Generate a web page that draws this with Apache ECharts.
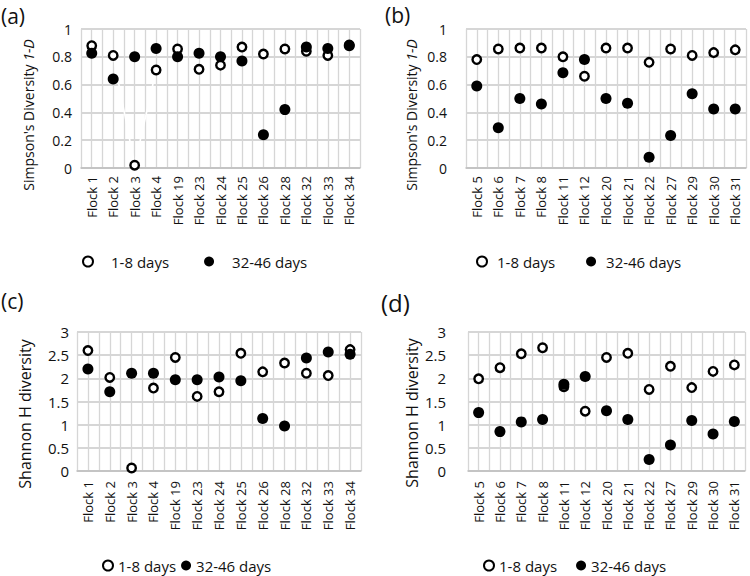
<!DOCTYPE html>
<html>
<head>
<meta charset="utf-8">
<script src="https://cdn.jsdelivr.net/npm/echarts@6/dist/echarts.min.js"></script>
<style>html,body{margin:0;padding:0;background:#fff}#c{width:750px;height:576px}</style>
</head>
<body>
<div id="c"></div>
<script>
// ---- data ----
const flocksLeft = ['Flock 1','Flock 2','Flock 3','Flock 4','Flock 19','Flock 23','Flock 24','Flock 25','Flock 26','Flock 28','Flock 32','Flock 33','Flock 34'];
const flocksRight = ['Flock 5','Flock 6','Flock 7','Flock 8','Flock 11','Flock 12','Flock 20','Flock 21','Flock 22','Flock 27','Flock 29','Flock 30','Flock 31'];
const seriesNames = ['1-8 days', '32-46 days'];

const simpsonEarlyA = [0.88, 0.81, 0.02, 0.705, 0.856, 0.71, 0.74, 0.87, 0.82, 0.856, 0.84, 0.81, 0.885];
const simpsonLateA  = [0.825, 0.64, 0.80, 0.86, 0.80, 0.825, 0.80, 0.77, 0.24, 0.42, 0.87, 0.86, 0.88];

const simpsonEarlyB = [0.78, 0.856, 0.863, 0.863, 0.80, 0.66, 0.863, 0.863, 0.76, 0.856, 0.81, 0.83, 0.85];
const simpsonLateB  = [0.59, 0.29, 0.50, 0.46, 0.685, 0.78, 0.50, 0.466, 0.078, 0.234, 0.534, 0.424, 0.424];

const shannonEarlyC = [2.60, 2.02, 0.065, 1.79, 2.45, 1.61, 1.71, 2.54, 2.14, 2.33, 2.11, 2.06, 2.62];
const shannonLateC  = [2.20, 1.71, 2.11, 2.11, 1.97, 1.97, 2.03, 1.95, 1.135, 0.97, 2.44, 2.57, 2.52];

const shannonEarlyD = [1.99, 2.23, 2.53, 2.66, 1.82, 1.29, 2.45, 2.54, 1.76, 2.26, 1.80, 2.15, 2.29];
const shannonLateD  = [1.26, 0.85, 1.06, 1.11, 1.87, 2.04, 1.30, 1.11, 0.25, 0.56, 1.09, 0.80, 1.07];

const simpsonTicks = [0, 0.2, 0.4, 0.6, 0.8, 1];
const shannonTicks = [0, 0.5, 1, 1.5, 2, 2.5, 3];

// ---- layout ----
const FONT = '"Open Sans", "Noto Sans", sans-serif';
const TXT = '#111';
const GRIDC = '#d6d6d6';

const panels = [
  {grid:{left:81, top:29, width:279, height:139}, cats:flocksLeft, early:simpsonEarlyA, late:simpsonLateA, ticks:simpsonTicks, tickFont:14, tickMargin:9, xMargin:8},
  {grid:{left:466, top:29, width:280, height:139}, cats:flocksRight, early:simpsonEarlyB, late:simpsonLateB, ticks:simpsonTicks, tickFont:14, tickMargin:19, xMargin:8},
  {grid:{left:77, top:332, width:284, height:139}, cats:flocksLeft, early:shannonEarlyC, late:shannonLateC, ticks:shannonTicks, tickFont:15, tickMargin:8, xMargin:10},
  {grid:{left:468, top:332, width:277, height:139}, cats:flocksRight, early:shannonEarlyD, late:shannonLateD, ticks:shannonTicks, tickFont:15, tickMargin:22, xMargin:10}
];

const grids = [], xAxes = [], yAxes = [], series = [];
panels.forEach((p, i) => {
  grids.push(Object.assign({containLabel:false}, p.grid));
  xAxes.push({
    type:'category', gridIndex:i, data:p.cats, boundaryGap:true,
    axisLine:{show:true, lineStyle:{color:'#bfbfbf', width:1.5}},
    axisTick:{show:false},
    axisLabel:{rotate:90, interval:0, fontSize:13, fontFamily:FONT, color:TXT, margin:p.xMargin},
    splitLine:{show:false}
  });
  const step = p.ticks[1] - p.ticks[0];
  yAxes.push({
    type:'value', gridIndex:i, min:p.ticks[0], max:p.ticks[p.ticks.length-1], interval:step,
    axisLine:{show:false}, axisTick:{show:false},
    axisLabel:{fontSize:p.tickFont, fontFamily:FONT, color:TXT, margin:p.tickMargin},
    splitLine:{show:true, lineStyle:{color:GRIDC, width:2}}
  });
  series.push({
    name:seriesNames[0], type:'scatter', xAxisIndex:i, yAxisIndex:i,
    data:p.early, symbol:'circle', symbolSize:8.5, z:3,
    itemStyle:{color:'#fff', borderColor:'#000', borderWidth:2.4, opacity:1}
  });
  series.push({
    name:seriesNames[1], type:'scatter', xAxisIndex:i, yAxisIndex:i,
    data:p.late, symbol:'circle', symbolSize:11, z:4,
    itemStyle:{color:'#000', opacity:1}
  });
});
// half-category vertical gridlines (layout helper axes)
panels.forEach((p, i) => {
  const slots = [];
  p.cats.forEach(c => { slots.push(c + ' a'); slots.push(c + ' b'); });
  xAxes.push({
    type:'category', gridIndex:i, data:slots, boundaryGap:true, position:'bottom',
    axisLine:{show:false}, axisTick:{show:false}, axisLabel:{show:false},
    splitLine:{show:true, interval:0, lineStyle:{color:GRIDC, width:1.3}}
  });
});
// faint white connector seen in panel (a) between Flock 2 and Flock 4
series.push({
  type:'line', xAxisIndex:0, yAxisIndex:0, z:2, silent:true, symbol:'none',
  data: simpsonEarlyA.map((v, k) => (k >= 1 && k <= 3) ? v : null),
  lineStyle:{color:'#fff', width:1.6}
});

const legendBase = (left, top, pad, gap) => ({
  left, top, padding:0, itemGap:gap, itemWidth:10, itemHeight:10, selectedMode:false,
  icon:'circle', data:seriesNames,
  textStyle:{fontSize:15, fontFamily:FONT, color:TXT, padding:[0,0,0,pad]}
});

const nameRich = {n:{fontSize:14, fontFamily:FONT, fill:TXT}, i:{fontSize:14, fontFamily:FONT, fontStyle:'italic', fill:TXT}};

const option = {
  animation:false,
  backgroundColor:'#fff',
  grid:grids, xAxis:xAxes, yAxis:yAxes, series,
  legend:[
    legendBase(82, 254, 13, 35),
    legendBase(476, 254, 5, 31),
    legendBase(102, 558, 0, 5),
    legendBase(483, 558, 0, 19)
  ],
  graphic:[
    {type:'text', left:1, top:5, style:{text:'(a)', fontSize:21, fontFamily:FONT, fill:TXT}},
    {type:'text', left:385, top:4, style:{text:'(b)', fontSize:21, fontFamily:FONT, fill:TXT}},
    {type:'text', left:1, top:290, style:{text:'(c)', fontSize:21, fontFamily:FONT, fill:TXT}},
    {type:'text', left:381, top:290, style:{text:'(d)', fontSize:24, fontFamily:FONT, fill:TXT}},
    {type:'text', x:28, y:115, rotation:Math.PI/2, style:{text:"{n|Simpson's Diversity }{i|1-D}", align:'center', verticalAlign:'middle', rich:nameRich}},
    {type:'text', x:411, y:115, rotation:Math.PI/2, style:{text:"{n|Simpson's Diversity }{i|1-D}", align:'center', verticalAlign:'middle', rich:nameRich}},
    {type:'text', x:25, y:414, rotation:Math.PI/2, style:{text:'Shannon H diversity', align:'center', verticalAlign:'middle', fontSize:16, fontFamily:FONT, fill:TXT}},
    {type:'text', x:412, y:413, rotation:Math.PI/2, style:{text:'Shannon H diversity', align:'center', verticalAlign:'middle', fontSize:16, fontFamily:FONT, fill:TXT}}
  ]
};

const chart = echarts.init(document.getElementById('c'), null, {renderer:'svg'});
chart.setOption(option);
</script>
</body>
</html>
